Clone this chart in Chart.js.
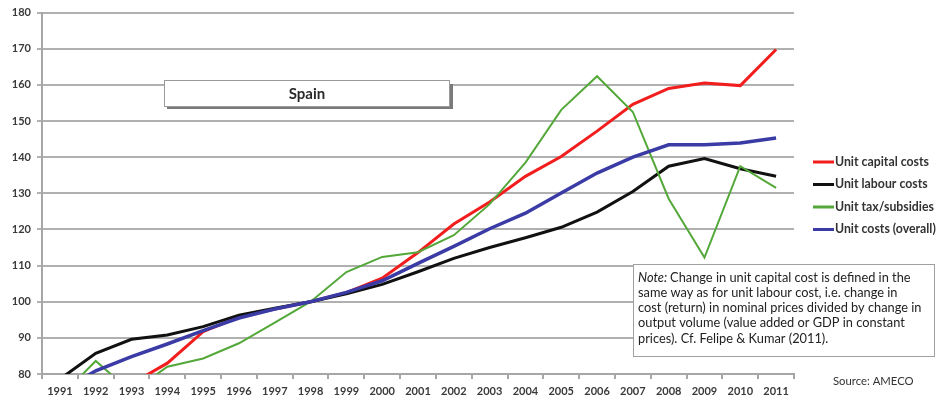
<!DOCTYPE html>
<html>
<head>
<meta charset="utf-8">
<script src="https://cdn.jsdelivr.net/npm/chart.js@4.4.0/dist/chart.umd.min.js"></script>
<style>
  html, body { margin: 0; padding: 0; background: #fff; }
  #wrap { width: 940px; height: 407px; }
</style>
</head>
<body>
<div id="wrap"><canvas id="graficoSpain" width="940" height="407"></canvas></div>
<script>
const anos = ['1991','1992','1993','1994','1995','1996','1997','1998','1999','2000',
  '2001','2002','2003','2004','2005','2006','2007','2008','2009','2010','2011'];

const custoCapital = [74, 75.5, 77.3, 83, 91.7, 95.8, 98, 100, 102.5, 106.5,
  113.6, 121.5, 127.6, 134.7, 140.2, 147.2, 154.6, 159, 160.5, 159.8, 169.8];
const custoTrabalho = [78.6, 85.7, 89.6, 90.8, 93.1, 96.3, 98.2, 100, 102.2, 104.8,
  108.3, 112, 115, 117.7, 120.6, 124.8, 130.5, 137.5, 139.6, 136.8, 134.7];
const custoImpostos = [73.6, 83.6, 75, 82, 84.3, 88.5, 94.2, 100, 108.2, 112.4,
  113.7, 118.4, 127, 138.5, 153.1, 162.4, 152.5, 128.5, 112.2, 137.5, 131.5];
const custoTotal = [75, 80.9, 84.8, 88.3, 92, 95.5, 98, 100, 102.6, 105.8,
  110.6, 115.3, 120.2, 124.5, 130.1, 135.6, 140, 143.4, 143.4, 143.9, 145.3];

const nomesSeries = ['Unit capital costs', 'Unit labour costs', 'Unit tax/subsidies', 'Unit costs (overall)'];
const coresSeries = ['#f21d1d', '#111111', '#54a83a', '#3b3ba6'];

const yMin = 80, yMax = 180, yPasso = 10;

const titulo = 'Spain';
const notaLinhas = [
  'Change in unit capital cost is defined in the',
  'same way as for unit labour cost, i.e. change in',
  'cost (return) in nominal prices divided by change in',
  'output volume (value added or GDP in constant',
  'prices). Cf. Felipe & Kumar (2011).'
];
const fonte = 'Source: AMECO';

const decoracao = {
  id: 'decoracao',
  afterDraw(chart) {
    const ctx = chart.ctx;
    ctx.save();

    // caixa do titulo
    ctx.fillStyle = '#7a7a7a';
    ctx.fillRect(167, 84, 286, 25);
    ctx.fillStyle = '#fff';
    ctx.fillRect(164, 80, 286, 26);
    ctx.strokeStyle = '#9a9a9a';
    ctx.lineWidth = 1;
    ctx.strokeRect(164.5, 80.5, 285, 26);
    ctx.fillStyle = '#2a2a2a';
    ctx.font = 'bold 15px Lato';
    ctx.textAlign = 'center';
    ctx.textBaseline = 'middle';
    ctx.fillText(titulo, 307, 94);

    // caixa da nota
    ctx.fillStyle = '#fff';
    ctx.fillRect(633, 264, 302, 93);
    ctx.strokeStyle = '#a0a0a0';
    ctx.strokeRect(633.5, 264.5, 301, 92);
    ctx.textAlign = 'left';
    ctx.fillStyle = '#222';
    notaLinhas.forEach((linha, i) => {
      let x = 638;
      const y = 278 + i * 15.1;
      if (i === 0) {
        ctx.font = 'italic 12.8px Lato';
        ctx.fillText('Note:', x, y);
        x += ctx.measureText('Note:').width + 3;
      }
      ctx.font = '12.8px Lato';
      ctx.fillText(linha, x, y);
    });

    ctx.font = '11.3px Lato';
    ctx.fillStyle = '#333';
    ctx.fillText(fonte, 833, 381);

    // legenda
    ctx.font = 'bold 12.3px Lato';
    chart.data.datasets.forEach((ds, i) => {
      const y = 162 + i * 22.5;
      ctx.strokeStyle = ds.borderColor;
      ctx.lineWidth = 3;
      ctx.beginPath();
      ctx.moveTo(813, y);
      ctx.lineTo(834, y);
      ctx.stroke();
      ctx.fillStyle = '#333';
      ctx.fillText(ds.label, 835, y);
    });

    ctx.restore();
  }
};

function montarGrafico() {
  const ctx = document.getElementById('graficoSpain').getContext('2d');
  const valores = [custoCapital, custoTrabalho, custoImpostos, custoTotal];
  const larguras = [3, 3, 2, 3.5];
  const ordem = [3, 2, 1, 0];

  new Chart(ctx, {
    type: 'line',
    data: {
      labels: anos,
      datasets: valores.map((v, i) => ({
        label: nomesSeries[i],
        data: v,
        borderColor: coresSeries[i],
        backgroundColor: coresSeries[i],
        borderWidth: larguras[i],
        pointRadius: 0,
        tension: 0,
        fill: false,
        order: ordem[i]
      }))
    },
    options: {
      responsive: false,
      animation: false,
      devicePixelRatio: 1,
      layout: { padding: { left: 0, right: 146, top: 12, bottom: 0 } },
      plugins: { legend: { display: false }, tooltip: { enabled: false } },
      scales: {
        x: {
          offset: true,
          afterFit: s => { s.height = 33; },
          grid: { offset: true, drawOnChartArea: false, drawTicks: true, tickLength: 5, color: '#a6a6a6', lineWidth: 2 },
          border: { color: '#a6a6a6', width: 2 },
          ticks: { font: { family: 'Lato', size: 11, weight: 'bold' }, color: '#3a3a3a', padding: 6, maxRotation: 0, autoSkip: false }
        },
        y: {
          min: yMin,
          max: yMax,
          afterFit: s => { s.width = 42; },
          grid: { color: '#b0b0b0', lineWidth: 2, tickLength: 5 },
          border: { color: '#a6a6a6', width: 2 },
          ticks: { stepSize: yPasso, font: { family: 'Lato', size: 11, weight: 'bold' }, color: '#3a3a3a', padding: 6 }
        }
      }
    },
    plugins: [decoracao]
  });
}

document.addEventListener('DOMContentLoaded', montarGrafico);
</script>
</body>
</html>
